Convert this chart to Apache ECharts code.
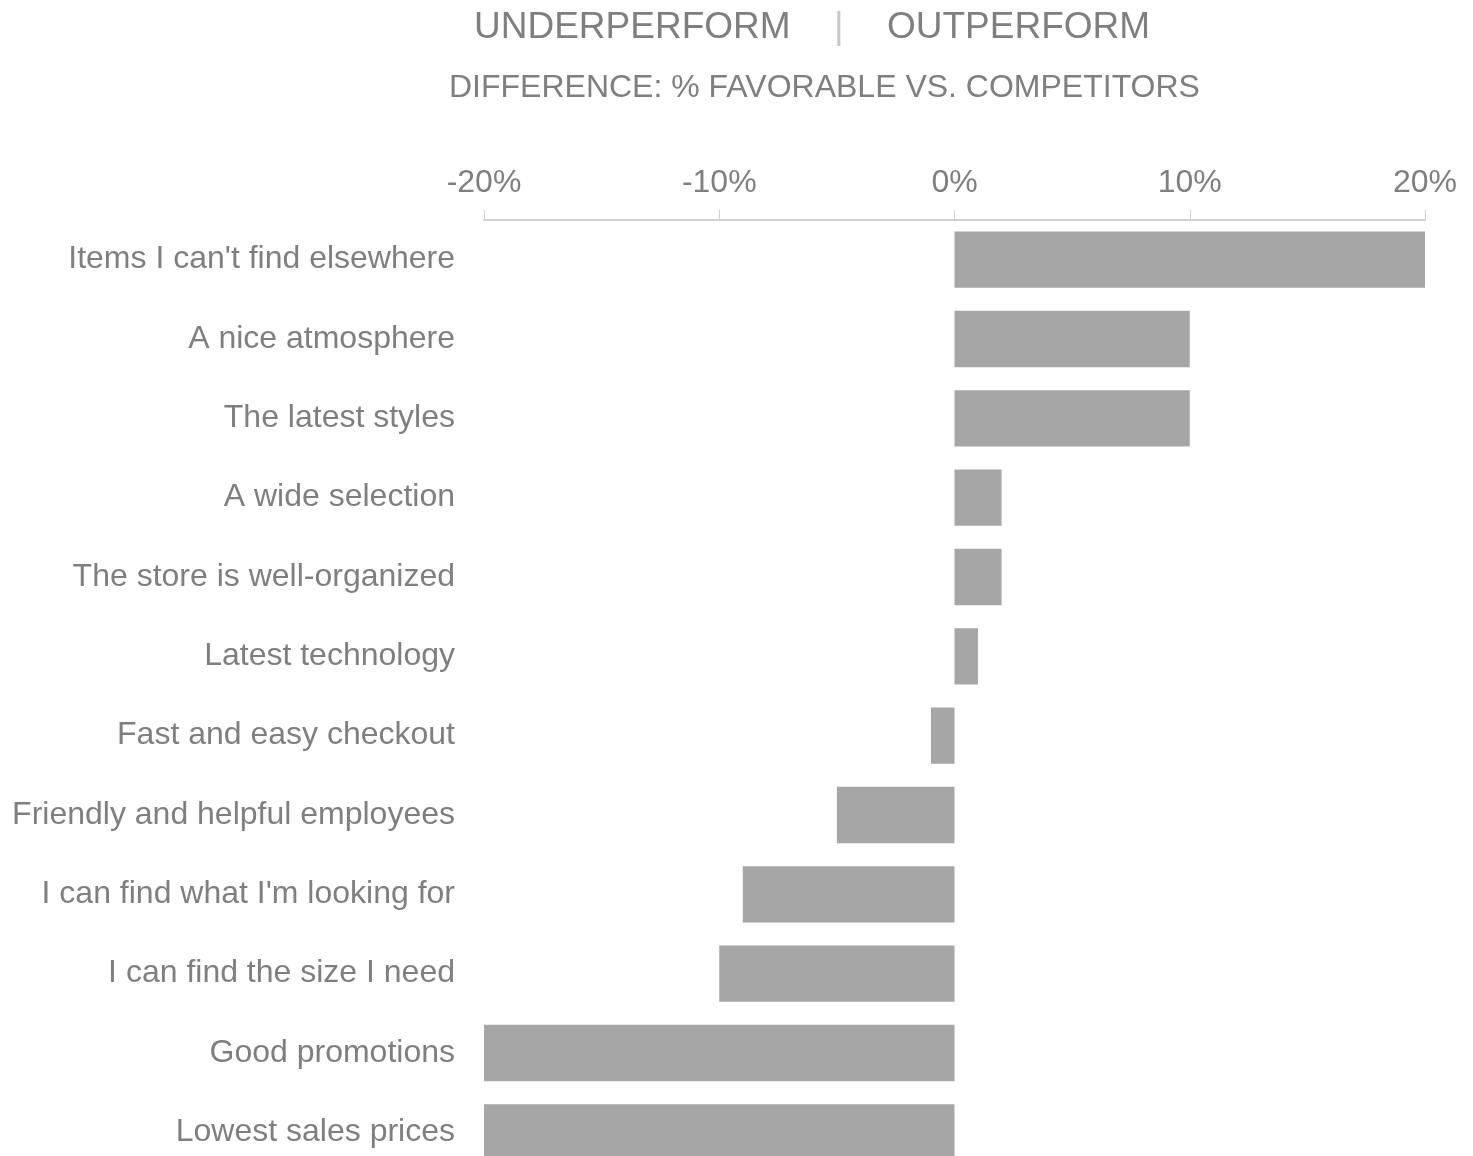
<!DOCTYPE html>
<html>
<head>
<meta charset="utf-8">
<style>
  html, body { margin: 0; padding: 0; background: #ffffff; overflow: hidden; }
  #chart { width: 1473px; height: 1172px; }
</style>
<script src="https://cdn.jsdelivr.net/npm/echarts@6/dist/echarts.min.js"></script>
</head>
<body>
<div id="chart"></div>
<script>
// Survey attributes, top to bottom
const categories = [
  "Items I can't find elsewhere",
  "A nice atmosphere",
  "The latest styles",
  "A wide selection",
  "The store is well-organized",
  "Latest technology",
  "Fast and easy checkout",
  "Friendly and helpful employees",
  "I can find what I'm looking for",
  "I can find the size I need",
  "Good promotions",
  "Lowest sales prices"
];

// Difference in % favorable vs. competitors
const differences = [20, 10, 10, 2, 2, 1, -1, -5, -9, -10, -20, -20];

// Value axis range and step (percent)
const axisMin = -20;
const axisMax = 20;
const axisStep = 10;

const headerLeft = "UNDERPERFORM";
const headerRight = "OUTPERFORM";
const subtitle = "DIFFERENCE: % FAVORABLE VS. COMPETITORS";

const FONT = '"Liberation Sans", Arial, sans-serif';
const TEXT_GREY = '#7f7f7f';
const BAR_GREY = '#a6a6a6';

const chart = echarts.init(document.getElementById('chart'), null, { renderer: 'canvas' });

chart.setOption({
  animation: false,
  backgroundColor: '#ffffff',
  textStyle: { fontFamily: FONT },
  graphic: [
    {
      type: 'text', left: 474, top: 9,
      style: { text: headerLeft, font: '37px ' + FONT, fill: TEXT_GREY }
    },
    {
      type: 'text', left: 834, top: 9,
      style: { text: '|', font: '37px ' + FONT, fill: '#c8c8c8' }
    },
    {
      type: 'text', left: 887, top: 9,
      style: { text: headerRight, font: '37px ' + FONT, fill: TEXT_GREY }
    },
    {
      type: 'text', left: 449, top: 72,
      style: { text: subtitle, font: '32px ' + FONT, fill: TEXT_GREY }
    }
  ],
  grid: {
    left: 484,
    right: 48,
    top: 220,
    bottom: 0,
    containLabel: false
  },
  xAxis: {
    type: 'value',
    position: 'top',
    min: axisMin,
    max: axisMax,
    interval: axisStep,
    axisLine: { show: true, lineStyle: { color: '#d0d0d0', width: 2 } },
    axisTick: { show: true, length: 10, lineStyle: { color: '#d0d0d0', width: 1 } },
    splitLine: { show: false },
    axisLabel: {
      formatter: '{value}%',
      color: TEXT_GREY,
      fontSize: 32,
      fontFamily: FONT,
      margin: 21
    }
  },
  yAxis: {
    type: 'category',
    data: categories,
    inverse: true,
    axisLine: { show: false },
    axisTick: { show: false },
    splitLine: { show: false },
    axisLabel: {
      color: TEXT_GREY,
      fontSize: 32,
      fontFamily: FONT,
      margin: 29,
      padding: [5, 0, 0, 0]
    }
  },
  series: [
    {
      type: 'bar',
      data: differences,
      barCategoryGap: '29%',
      itemStyle: { color: BAR_GREY },
      label: { show: false }
    }
  ]
});
</script>
</body>
</html>
